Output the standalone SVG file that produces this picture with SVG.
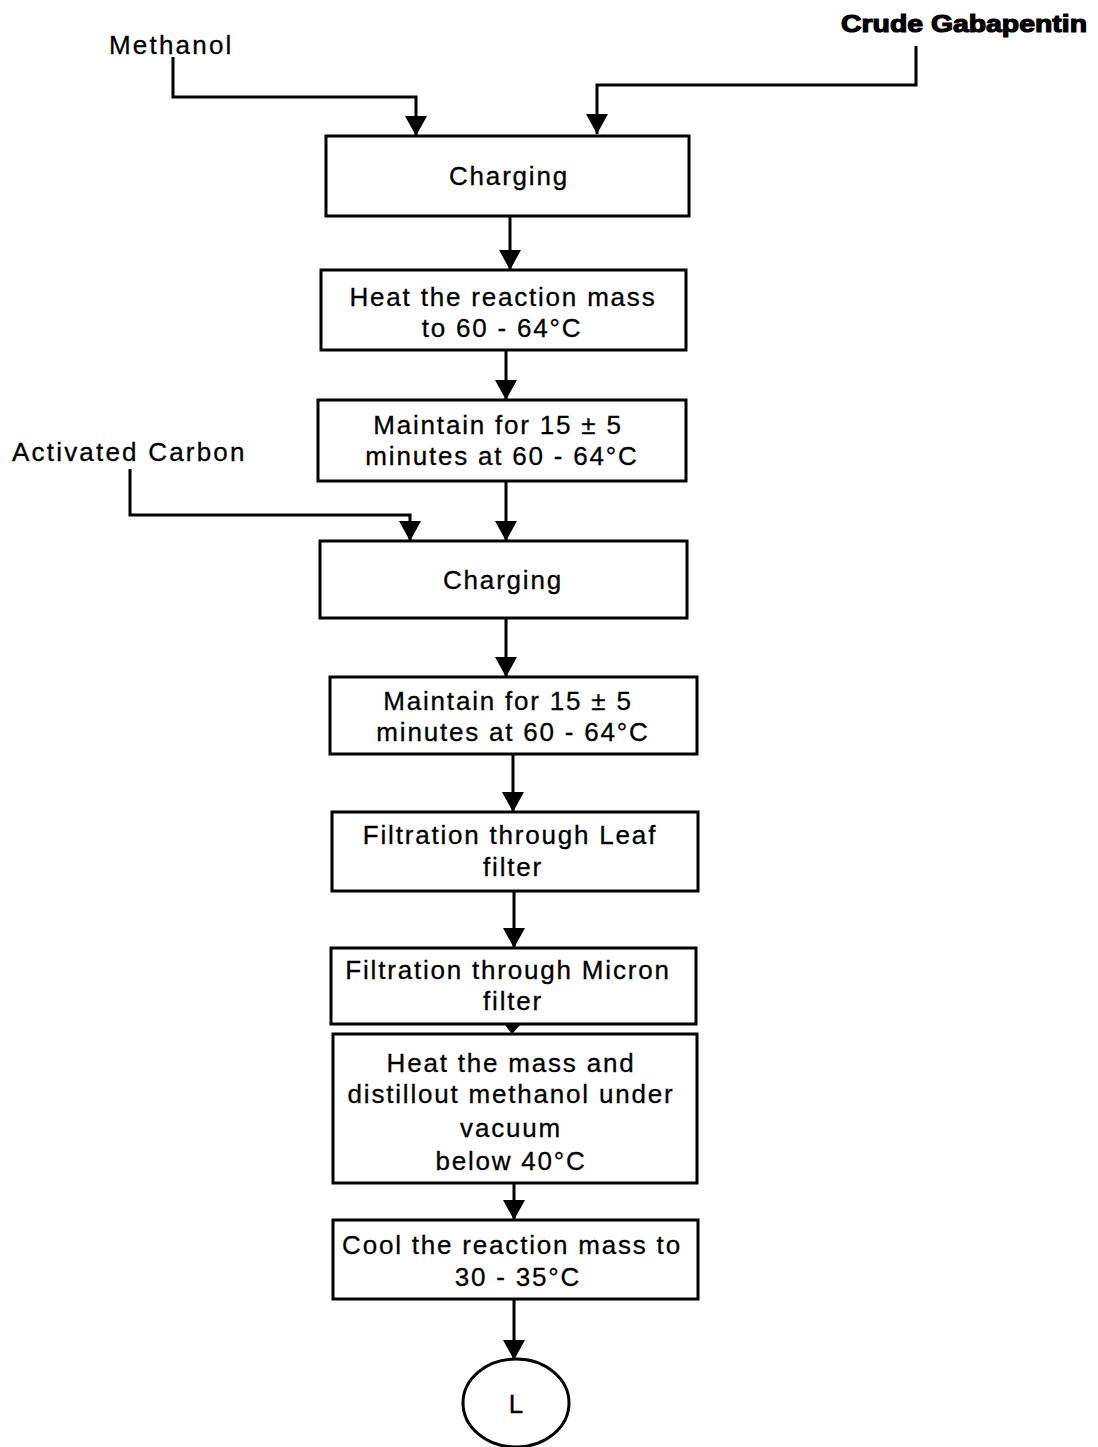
<svg xmlns="http://www.w3.org/2000/svg" width="1098" height="1447" viewBox="0 0 1098 1447">
  <style>
    .box { fill: #ffffff; stroke: #000000; stroke-width: 3; }
    .wire { fill: none; stroke: #000000; stroke-width: 3; }
    .t { font-family: "Liberation Sans", Arial, sans-serif; font-size: 26px; letter-spacing: 1.8px; fill: #000000; stroke: #000000; stroke-width: 0.3; text-anchor: middle; }
    .lbl { font-family: "Liberation Sans", Arial, sans-serif; font-size: 26px; letter-spacing: 2.2px; fill: #000000; stroke: #000000; stroke-width: 0.3; }
    .heavy { font-family: "Liberation Sans", Arial, sans-serif; font-size: 24px; font-weight: bold; fill: #000000; stroke: #000000; stroke-width: 1.2; }
  </style>
  <defs>
    <marker id="head" markerUnits="userSpaceOnUse" markerWidth="24" markerHeight="22" refX="20" refY="11" orient="auto">
      <path d="M0,0 L20,11 L0,22 Z" fill="#000000"/>
    </marker>
  </defs>
  <rect width="1098" height="1447" fill="#ffffff"/>

  <!-- feed labels -->
  <text id="feed-methanol" class="lbl" x="109" y="54">Methanol</text>
  <text id="feed-gabapentin" class="heavy" x="841" y="32" textLength="246" lengthAdjust="spacingAndGlyphs">Crude Gabapentin</text>
  <text id="feed-carbon" class="lbl" x="12" y="461">Activated Carbon</text>

  <!-- connectors -->
  <g id="connectors">
    <polyline class="wire" points="173,57 173,97 416,97 416,136" marker-end="url(#head)"/>
    <polyline class="wire" points="916,46 916,85 597,85 597,134" marker-end="url(#head)"/>
    <polyline class="wire" points="130,469 130,515 410,515 410,541" marker-end="url(#head)"/>
    <line class="wire" x1="510" y1="216" x2="510" y2="270" marker-end="url(#head)"/>
    <line class="wire" x1="506" y1="350" x2="506" y2="400" marker-end="url(#head)"/>
    <line class="wire" x1="506" y1="481" x2="506" y2="541" marker-end="url(#head)"/>
    <line class="wire" x1="506" y1="618" x2="506" y2="677" marker-end="url(#head)"/>
    <line class="wire" x1="513" y1="754" x2="513" y2="812" marker-end="url(#head)"/>
    <line class="wire" x1="514" y1="891" x2="514" y2="948" marker-end="url(#head)"/>
    <path d="M505,1025 L520,1025 L512,1034 Z" fill="#000000"/>
    <line class="wire" x1="514" y1="1183" x2="514" y2="1220" marker-end="url(#head)"/>
    <line class="wire" x1="514" y1="1299" x2="514" y2="1360" marker-end="url(#head)"/>
  </g>

  <!-- process steps -->
  <g id="step-charging-1">
    <rect class="box" x="326" y="136" width="363" height="80"/>
    <text class="t" x="509" y="185">Charging</text>
  </g>
  <g id="step-heat">
    <rect class="box" x="321" y="270" width="365" height="80"/>
    <text class="t" x="503" y="306">Heat the reaction mass</text>
    <text class="t" x="502" y="337">to 60 - 64°C</text>
  </g>
  <g id="step-maintain-1">
    <rect class="box" x="318" y="400" width="368" height="81"/>
    <text class="t" x="498" y="434">Maintain for 15 ± 5</text>
    <text class="t" x="502" y="465">minutes at 60 - 64°C</text>
  </g>
  <g id="step-charging-2">
    <rect class="box" x="320" y="541" width="367" height="77"/>
    <text class="t" x="503" y="589">Charging</text>
  </g>
  <g id="step-maintain-2">
    <rect class="box" x="330" y="677" width="367" height="77"/>
    <text class="t" x="508" y="710">Maintain for 15 ± 5</text>
    <text class="t" x="513" y="741">minutes at 60 - 64°C</text>
  </g>
  <g id="step-leaf-filter">
    <rect class="box" x="332" y="812" width="366" height="79"/>
    <text class="t" x="510" y="844">Filtration through Leaf</text>
    <text class="t" x="513" y="876">filter</text>
  </g>
  <g id="step-micron-filter">
    <rect class="box" x="331" y="948" width="365" height="76"/>
    <text class="t" x="508" y="979">Filtration through Micron</text>
    <text class="t" x="513" y="1010">filter</text>
  </g>
  <g id="step-distill">
    <rect class="box" x="333" y="1034" width="364" height="149"/>
    <text class="t" x="511" y="1072">Heat the mass and</text>
    <text class="t" x="511" y="1103">distillout methanol under</text>
    <text class="t" x="511" y="1137">vacuum</text>
    <text class="t" x="511" y="1170">below 40°C</text>
  </g>
  <g id="step-cool">
    <rect class="box" x="333" y="1220" width="365" height="79"/>
    <text class="t" x="512" y="1254">Cool the reaction mass to</text>
    <text class="t" x="518" y="1286">30 - 35°C</text>
  </g>
  <g id="connector-L">
    <ellipse class="box" cx="516" cy="1403" rx="53" ry="44"/>
    <text class="t" x="516" y="1413" style="letter-spacing:0">L</text>
  </g>
</svg>
